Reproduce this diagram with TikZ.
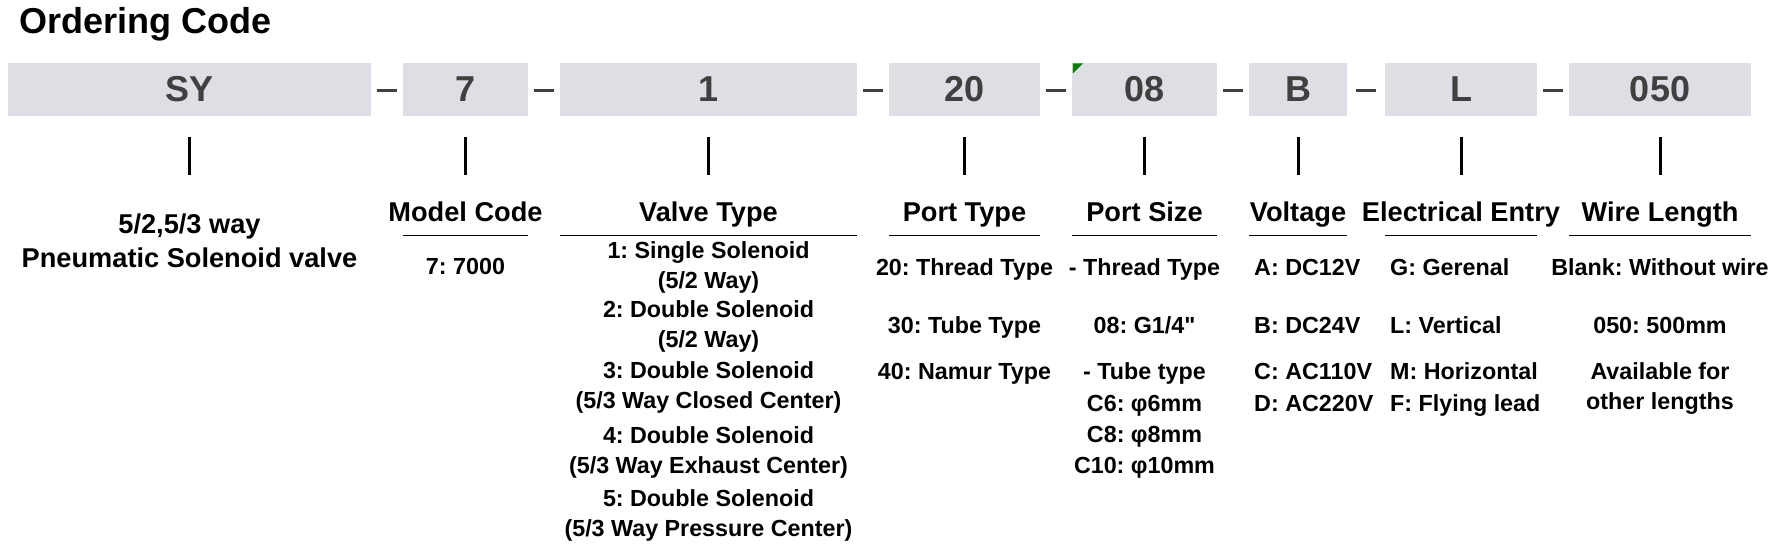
\documentclass[tikz,border=0pt]{standalone}
\usepackage{fontspec}
\setmainfont{Liberation Sans}
\usetikzlibrary{calc,positioning}
\definecolor{boxgray}{RGB}{222,223,228}
\definecolor{codegray}{RGB}{64,64,64}
\frenchspacing
\tikzset{
  codebox/.style={fill=boxgray, text=codegray, font=\fontsize{36}{40}\selectfont\bfseries, inner sep=0pt, minimum height=53.3pt},
  codedash/.style={line width=3.5pt, draw=codegray},
  codetick/.style={line width=3pt, draw=black},
  hdrrule/.style={line width=1.3pt, draw=black},
}

\begin{document}
\begin{tikzpicture}[
  x=1pt, y=-1pt,
  hdr/.style={font=\fontsize{27.2}{30}\selectfont\bfseries, anchor=base, inner sep=0pt},
  item/.style={font=\fontsize{23.3}{26}\selectfont\bfseries, anchor=base, inner sep=0pt},
]
  \useasboundingbox (0,0) rectangle (1783,559);
  \node[font=\fontsize{36}{40}\selectfont\bfseries, anchor=base west, inner sep=0pt] (title) at (19,33.3) {Ordering Code};
  % code segments
  \foreach \n/\cx/\w/\t in {b1/189.5/363/SY, b2/465.5/125/7, b3/708.5/297/1, b4/964.5/151/20,
      b5/1144.5/145/08, b6/1298/98/B, b7/1461/152/L, b8/1660/182/050}
    \node[codebox, minimum width=\w pt] (\n) at (\cx,89.35) {\t};
  \foreach \a/\b in {b1/b2,b2/b3,b3/b4,b4/b5,b5/b6,b6/b7,b7/b8}
    \draw[codedash] ($(\a.east)!0.5!(\b.west)+(-10,1)$) -- ++(20,0);
  \fill[green!50!black] ($(b5.north west)+(1,1)$) -- ++(10,0) -- ++(-10,10) -- cycle;
  \foreach \n in {1,...,8}
    \draw[codetick] ($(b\n.south)+(0,21)$) -- ++(0,38);
  % headers
  \foreach \n/\t in {2/Model Code, 3/Valve Type, 4/Port Type, 5/Port Size, 6/Voltage, 7/Electrical Entry, 8/Wire Length}{
    \node[hdr] (h\n) at (b\n |- 0,221) {\t};
    \draw[hdrrule] ($(b\n.south west)+(0,119.5)$) -- ($(b\n.south east)+(0,119.5)$);
  }
  % options
  \node[hdr] (sy1) at (b1 |- 0,233) {5/2,5/3 way};
  \node[hdr] (sy2) at (b1 |- 0,267) {Pneumatic Solenoid valve};
  \node[item] (mc1) at (b2 |- 0,274) {7: 7000};
  \foreach \y/\t [count=\k] in {258/{1: Single Solenoid}, 288/{(5/2 Way)}, 317/{2: Double Solenoid}, 347/{(5/2 Way)},
      378/{3: Double Solenoid}, 408/{(5/3 Way Closed Center)}, 443/{4: Double Solenoid}, 473/{(5/3 Way Exhaust Center)},
      506/{5: Double Solenoid}, 536/{(5/3 Way Pressure Center)}}
    \node[item] (vt\k) at (b3 |- 0,\y) {\t};
  \foreach \y/\t [count=\k] in {275/{20: Thread Type}, 333/{30: Tube Type}, 379/{40: Namur Type}}
    \node[item] (pt\k) at (b4 |- 0,\y) {\t};
  \foreach \y/\t [count=\k] in {275/{- Thread Type}, 333/{08: G1/4\textquotedbl}, 379/{- Tube type}, 411/{C6: φ6mm}, 442/{C8: φ8mm}, 473/{C10: φ10mm}}
    \node[item] (ps\k) at (b5 |- 0,\y) {\t};
  \foreach \y/\t [count=\k] in {275/{A: DC12V}, 333/{B: DC24V}, 379/{C: AC110V}, 411/{D: AC220V}}
    \node[item, anchor=base west] (vo\k) at (1254,\y) {\t};
  \foreach \y/\t [count=\k] in {275/{G: Gerenal}, 333/{L: Vertical}, 379/{M: Horizontal}, 411/{F: Flying lead}}
    \node[item, anchor=base west] (ee\k) at (1390,\y) {\t};
  \foreach \y/\t [count=\k] in {275/{Blank: Without wire}, 333/{050: 500mm}, 379/{Available for}, 409/{other lengths}}
    \node[item] (wl\k) at (b8 |- 0,\y) {\t};
\end{tikzpicture}
\end{document}
